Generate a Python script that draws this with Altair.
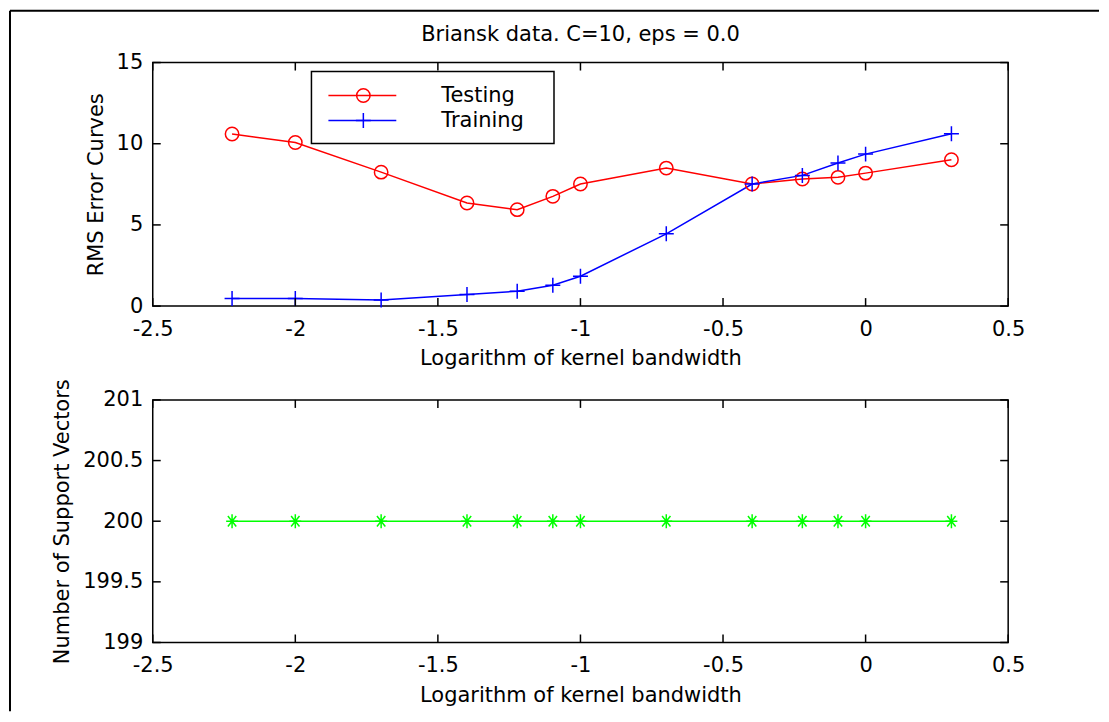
import altair as alt
import pandas as pd

# ---------------- data ----------------
log_bandwidth = [-2.2218, -2.0, -1.699, -1.3979, -1.2218, -1.0969, -1.0,
                 -0.699, -0.3979, -0.2218, -0.0969, 0.0, 0.301]
testing_rms = [10.6, 10.08, 8.25, 6.35, 5.94, 6.76, 7.52, 8.5, 7.52, 7.83, 7.93, 8.19, 9.01]
training_rms = [0.47, 0.47, 0.37, 0.72, 0.92, 1.29, 1.84, 4.45, 7.52, 8.05, 8.81, 9.36, 10.61]
support_vectors = [200, 200, 200, 200, 200, 200, 200, 200, 200, 200, 200, 200, 200]

series_names = ["Testing", "Training"]
series_colors = ["#ff0000", "#0000ff"]
sv_color = "#00ff00"

x_ticks = [-2.5, -2, -1.5, -1, -0.5, 0, 0.5]
rms_ticks = [0, 5, 10, 15]
sv_ticks = [199, 199.5, 200, 200.5, 201]

title_text = "Briansk data. C=10, eps = 0.0"
x_title = "Logarithm of kernel bandwidth"
rms_title = "RMS Error Curves"
sv_title = "Number of Support Vectors"

# ---------------- styling ----------------
FONT = "DejaVu Sans"
FS = 21
W, H = 857, 244
H2 = 243
GAP = 94
TICK = 8
PLUS = "M-1,0L1,0M0,-1L0,1"
STAR = "M-0.85,0L0.85,0M0,-1L0,1M-0.6,-0.75L0.6,0.75M-0.6,0.75L0.6,-0.75"

xs = alt.Scale(domain=[-2.5, 0.5], nice=False, zero=False)
ys_top = alt.Scale(domain=[0, 15], nice=False, zero=False)
ys_bot = alt.Scale(domain=[199, 201], nice=False, zero=False)


def x_axis():
    return alt.Axis(values=x_ticks, title=x_title, domain=False, ticks=False, tickSize=0,
                    grid=False, labelPadding=12, titlePadding=9, labelExpr="datum.value + ''",
                    labelFont=FONT, labelFontSize=FS, titleFont=FONT, titleFontSize=FS,
                    titleFontWeight="normal", labelColor="#000", titleColor="#000",
                    labelFlush=False, labelOverlap=False)


def y_axis(vals, title):
    return alt.Axis(values=vals, title=title, domain=False, ticks=False, tickSize=0,
                    grid=False, labelPadding=10, titlePadding=10, labelExpr="datum.value + ''",
                    labelFont=FONT, labelFontSize=FS, titleFont=FONT, titleFontSize=FS,
                    titleFontWeight="normal", labelColor="#000", titleColor="#000",
                    labelFlush=False, labelOverlap=False)


def tick_layers(yvals, yscale, ytitle, h):
    xt = pd.DataFrame({"tx": x_ticks})
    yt = pd.DataFrame({"ty": yvals})
    base_x = alt.Chart(xt).mark_rule(color="#000", strokeWidth=1.5)
    base_y = alt.Chart(yt).mark_rule(color="#000", strokeWidth=1.5)
    return [
        base_x.encode(x=alt.X("tx:Q", scale=xs, axis=x_axis()), y=alt.value(h), y2=alt.value(h - TICK)),
        base_x.encode(x=alt.X("tx:Q", scale=xs, axis=x_axis()), y=alt.value(0), y2=alt.value(TICK)),
        base_y.encode(y=alt.Y("ty:Q", scale=yscale, axis=y_axis(yvals, ytitle)), x=alt.value(0), x2=alt.value(TICK)),
        base_y.encode(y=alt.Y("ty:Q", scale=yscale, axis=y_axis(yvals, ytitle)), x=alt.value(W), x2=alt.value(W - TICK)),
    ]


# ---------------- top panel ----------------
rows = []
for name, vals in zip(series_names, [testing_rms, training_rms]):
    for xv, yv in zip(log_bandwidth, vals):
        rows.append({"x": xv, "v": yv, "series": name})
df_top = pd.DataFrame(rows)

color_scale = alt.Scale(domain=series_names, range=series_colors)
shape_scale = alt.Scale(domain=series_names, range=["circle", PLUS])
size_scale = alt.Scale(domain=series_names, range=[180, 225])

lines = alt.Chart(df_top).mark_line(strokeWidth=1.5).encode(
    x=alt.X("x:Q", scale=xs, axis=x_axis()),
    y=alt.Y("v:Q", scale=ys_top, axis=y_axis(rms_ticks, rms_title)),
    color=alt.Color("series:N", scale=color_scale, legend=None),
)
points = alt.Chart(df_top).mark_point(filled=False, strokeWidth=1.5, opacity=1).encode(
    x=alt.X("x:Q", scale=xs, axis=x_axis()),
    y=alt.Y("v:Q", scale=ys_top, axis=y_axis(rms_ticks, rms_title)),
    color=alt.Color("series:N", scale=color_scale, legend=None),
    shape=alt.Shape("series:N", scale=shape_scale, legend=None),
    size=alt.Size("series:N", scale=size_scale, legend=None),
)

# legend drawn as a box in the plot's upper left
one = pd.DataFrame({"d": [0]})
legend_layers = [
    alt.Chart(one).mark_rect(fill="#fff", stroke="#000", strokeWidth=1.5).encode(
        x=alt.value(159), x2=alt.value(402), y=alt.value(9), y2=alt.value(81))
]
for i, (name, col, shp, sz) in enumerate(zip(series_names, series_colors, ["circle", PLUS], [180, 225])):
    yy = 33 + 25 * i
    d = pd.DataFrame({"name": [name]})
    legend_layers.append(alt.Chart(d).mark_rule(color=col, strokeWidth=1.5).encode(
        x=alt.value(176), x2=alt.value(244), y=alt.value(yy)))
    legend_layers.append(alt.Chart(d).mark_point(filled=False, color=col, strokeWidth=1.5,
                                                 shape=shp, size=sz, opacity=1).encode(
        x=alt.value(211), y=alt.value(yy)))
    legend_layers.append(alt.Chart(d).mark_text(align="left", baseline="middle", font=FONT,
                                                fontSize=FS, color="#000").encode(
        x=alt.value(289), y=alt.value(yy + 1), text="name:N"))

top = alt.layer(lines, points, *tick_layers(rms_ticks, ys_top, rms_title, H), *legend_layers).properties(
    width=W, height=H,
    title=alt.Title(title_text, font=FONT, fontSize=FS, fontWeight="normal", color="#000",
                    anchor="middle", offset=7, frame="group"),
)

# ---------------- bottom panel ----------------
df_bot = pd.DataFrame({"x": log_bandwidth, "n": support_vectors})
sv_line = alt.Chart(df_bot).mark_line(color=sv_color, strokeWidth=1.5).encode(
    x=alt.X("x:Q", scale=xs, axis=x_axis()),
    y=alt.Y("n:Q", scale=ys_bot, axis=y_axis(sv_ticks, sv_title)),
)
sv_pts = alt.Chart(df_bot).mark_point(filled=False, color=sv_color, strokeWidth=1.5,
                                      shape=STAR, size=196, opacity=1).encode(
    x=alt.X("x:Q", scale=xs, axis=x_axis()),
    y=alt.Y("n:Q", scale=ys_bot, axis=y_axis(sv_ticks, sv_title)),
)

# outer figure frame (top and left edges), placed relative to the lower panel
top_edge = -(H + GAP + 52)
frame = [
    alt.Chart(one).mark_rule(color="#000", strokeWidth=2).encode(
        x=alt.value(-143), x2=alt.value(948), y=alt.value(top_edge)),
    alt.Chart(one).mark_rule(color="#000", strokeWidth=2).encode(
        x=alt.value(-143), y=alt.value(top_edge), y2=alt.value(312)),
]

bottom = alt.layer(sv_line, sv_pts, *tick_layers(sv_ticks, ys_bot, sv_title, H2), *frame).properties(
    width=W, height=H2)

chart = alt.vconcat(top, bottom, spacing=GAP, bounds="flush").properties(
    padding=0, background="#ffffff"
).configure_view(stroke="#000", strokeWidth=1.5)

chart.save("out.html", embed_options={"renderer": "svg", "actions": False})
